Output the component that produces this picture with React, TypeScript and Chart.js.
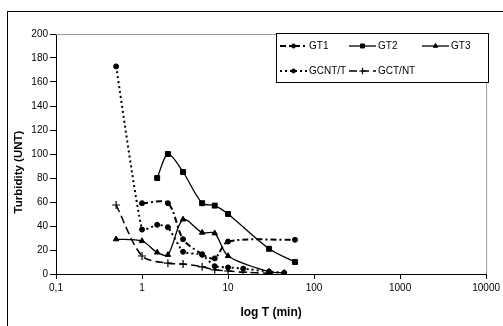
import React, { useEffect, useRef } from "react";
import { Chart, registerables } from "chart.js";
import { drawPoint } from "chart.js/helpers";

Chart.register(...registerables);

// ---- data ----
const seriesNames = ["GT1", "GT2", "GT3", "GCNT/T", "GCT/NT"];

const timesGT1 = [1, 2, 3, 5, 7, 10, 60];
const valuesGT1 = [59, 59, 29, 16.5, 13, 27, 28.5];

const timesGT2 = [1.5, 2, 3, 5, 7, 10, 30, 60];
const valuesGT2 = [80, 100, 85, 59, 57, 50, 21, 10];

const timesGT3 = [0.5, 1, 1.5, 2, 3, 5, 7, 10, 30, 45];
const valuesGT3 = [29, 27.5, 18, 16, 45.5, 34.5, 34, 15, 2, 1];

const timesGCNT = [0.5, 1, 1.5, 2, 3, 5, 7, 10, 15, 30, 45];
const valuesGCNT = [173, 37, 41, 39, 18.5, 16, 6.5, 5.5, 4.5, 2, 1];

const timesGCT = [0.5, 1, 2, 3, 5, 7, 10, 15, 30];
const valuesGCT = [57.5, 15, 9, 8.3, 6, 3.5, 2.5, 1.5, 0.5];

const xTickValues = [0.1, 1, 10, 100, 1000, 10000];
const xTickLabels = ["0,1", "1", "10", "100", "1000", "10000"];

const xTitle = "log T (min)";
const yTitle = "Turbidity (UNT)";

const FONT = "'Liberation Sans', Arial, sans-serif";

type Style = {
  dash: number[];
  width: number;
  pointStyle: string;
  radius: number;
  pointBorder: number;
  tension: number;
};

const styles: Style[] = [
  { dash: [6, 3, 2, 3], width: 2, pointStyle: "circle", radius: 2.5, pointBorder: 1, tension: 0.3 },
  { dash: [], width: 1.3, pointStyle: "rect", radius: 3.5, pointBorder: 1, tension: 0.3 },
  { dash: [], width: 1.3, pointStyle: "triangle", radius: 3.2, pointBorder: 1, tension: 0.3 },
  { dash: [2, 3], width: 2, pointStyle: "circle", radius: 2.5, pointBorder: 1, tension: 0.15 },
  { dash: [8, 4], width: 1.5, pointStyle: "cross", radius: 4, pointBorder: 1.2, tension: 0.3 },
];

const allTimes = [timesGT1, timesGT2, timesGT3, timesGCNT, timesGCT];
const allValues = [valuesGT1, valuesGT2, valuesGT3, valuesGCNT, valuesGCT];

const framePlugin = {
  id: "frame",
  beforeDraw(chart: any) {
    const { ctx } = chart;
    ctx.save();
    ctx.fillStyle = "#ffffff";
    ctx.fillRect(0, 0, chart.width, chart.height);
    ctx.strokeStyle = "#000000";
    ctx.lineWidth = 1;
    ctx.strokeRect(7.5, 11.5, 700, 500);
    ctx.restore();
  },
  beforeDatasetsDraw(chart: any) {
    const { ctx, chartArea } = chart;
    ctx.save();
    ctx.strokeStyle = "#9a9a9a";
    ctx.lineWidth = 1;
    ctx.beginPath();
    ctx.moveTo(chartArea.left, chartArea.top + 0.5);
    ctx.lineTo(chartArea.right + 0.5, chartArea.top + 0.5);
    ctx.lineTo(chartArea.right + 0.5, chartArea.bottom);
    ctx.stroke();
    ctx.restore();
  },
  afterDraw(chart: any) {
    const { ctx } = chart;
    // y axis title
    ctx.save();
    ctx.fillStyle = "#000";
    ctx.font = `bold 11.5px ${FONT}`;
    ctx.textAlign = "center";
    ctx.textBaseline = "middle";
    ctx.translate(19, 172);
    ctx.rotate(-Math.PI / 2);
    ctx.fillText(yTitle, 0, 0);
    ctx.restore();

    // legend
    const bx = 276, by = 33, bw = 212, bh = 49;
    ctx.save();
    ctx.fillStyle = "#fff";
    ctx.fillRect(bx, by, bw, bh);
    ctx.strokeStyle = "#000";
    ctx.lineWidth = 1;
    ctx.strokeRect(bx + 0.5, by + 0.5, bw, bh);
    const cols = [280, 349, 422];
    const rows = [46, 71];
    ctx.font = `10px ${FONT}`;
    ctx.textBaseline = "middle";
    ctx.textAlign = "left";
    seriesNames.forEach((name, i) => {
      const c = i % 3;
      const r = Math.floor(i / 3);
      const x0 = cols[c];
      const y = rows[r];
      const s = styles[i];
      ctx.save();
      ctx.strokeStyle = "#000";
      ctx.lineWidth = s.width;
      ctx.setLineDash(s.dash);
      ctx.beginPath();
      ctx.moveTo(x0, y);
      ctx.lineTo(x0 + 27, y);
      ctx.stroke();
      ctx.restore();
      ctx.save();
      ctx.fillStyle = "#000";
      ctx.strokeStyle = "#000";
      ctx.lineWidth = s.pointBorder;
      drawPoint(ctx, { pointStyle: s.pointStyle as any, radius: s.radius * 0.8, rotation: 0, borderWidth: s.pointBorder } as any, x0 + 13.5, y);
      ctx.restore();
      ctx.fillStyle = "#000";
      ctx.fillText(name, x0 + 29, y);
    });
    ctx.restore();
  },
};

export default function App() {
  const ref = useRef<HTMLCanvasElement | null>(null);

  useEffect(() => {
    if (!ref.current) return;
    const datasets = seriesNames.map((name, i) => {
      const s = styles[i];
      return {
        label: name,
        data: allTimes[i].map((t, j) => ({ x: t, y: allValues[i][j] })),
        borderColor: "#000",
        backgroundColor: "#000",
        borderWidth: s.width,
        borderDash: s.dash,
        pointStyle: s.pointStyle,
        pointRadius: s.radius,
        pointBorderWidth: s.pointBorder,
        pointBackgroundColor: "#000",
        pointBorderColor: "#000",
        tension: s.tension,
        fill: false,
      };
    });

    const chart = new Chart(ref.current, {
      type: "line",
      data: { datasets } as any,
      plugins: [framePlugin],
      options: {
        animation: false,
        responsive: false,
        maintainAspectRatio: false,
        layout: { padding: { top: 34, right: 14, left: 0, bottom: 0 } },
        plugins: {
          legend: { display: false },
          tooltip: { enabled: false },
          title: { display: false },
        },
        scales: {
          x: {
            type: "logarithmic",
            min: 0.1,
            max: 10000,
            afterBuildTicks(scale: any) {
              scale.ticks = xTickValues.map((v) => ({ value: v }));
            },
            afterFit(scale: any) {
              scale.height = 52;
            },
            ticks: {
              autoSkip: false,
              maxRotation: 0,
              padding: 3,
              color: "#000",
              font: { family: FONT, size: 10 },
              callback: (v: any) => {
                const idx = xTickValues.findIndex((t) => Math.abs(t - Number(v)) < 1e-9 * Math.max(1, t));
                return idx >= 0 ? xTickLabels[idx] : "";
              },
            },
            grid: {
              display: true,
              drawOnChartArea: false,
              drawTicks: true,
              tickLength: 5,
              color: "#000",
            },
            border: { display: true, color: "#000", width: 1 },
            title: {
              display: true,
              text: xTitle,
              color: "#000",
              font: { family: FONT, size: 12, weight: "bold" },
              padding: { top: 0, bottom: 6 },
            },
          },
          y: {
            type: "linear",
            min: 0,
            max: 200,
            afterFit(scale: any) {
              scale.width = 56;
            },
            ticks: {
              stepSize: 20,
              padding: 2,
              color: "#000",
              font: { family: FONT, size: 10 },
            },
            grid: {
              display: true,
              drawOnChartArea: false,
              drawTicks: true,
              tickLength: 6,
              color: "#000",
            },
            border: { display: true, color: "#000", width: 1 },
          },
        },
      } as any,
    });
    return () => chart.destroy();
  }, []);

  return (
    <div style={{ position: "fixed", left: 0, top: 0, width: 503, height: 326, background: "#fff" }}>
      <canvas ref={ref} width={503} height={326} style={{ display: "block", width: 503, height: 326 }} />
    </div>
  );
}
